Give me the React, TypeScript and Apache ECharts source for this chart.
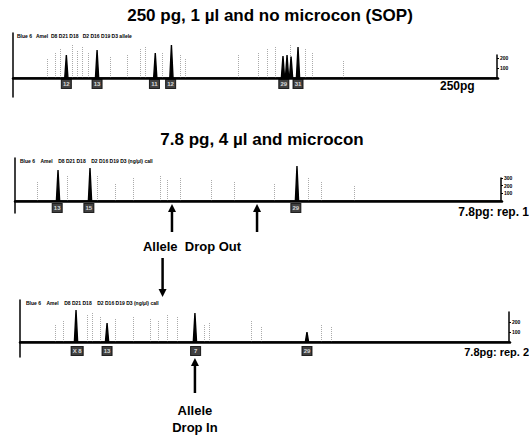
import React, { useEffect, useRef } from "react";
import * as echarts from "echarts";

// ---------- data ----------
const X_MIN = 60;
const X_MAX = 360;

// Panel 1: 250 pg, SOP
const P1_PEAK_X = [93, 112, 148, 158, 227, 229.5, 232, 236.3];
const P1_PEAK_Y = [230, 280, 250, 330, 220, 230, 215, 310];
const P1_ALLELE_X = [93, 112, 147.5, 157.5, 227.5, 236.3];
const P1_ALLELES = ["12", "13", "11", "12", "29", "31"];
const P1_TRACE_X = [81, 86, 89, 96.5, 99.6, 102.7, 106.4, 120, 130.5, 138.6, 141.6, 152.2, 163.3, 166.3, 199.2, 211.5, 217, 222, 231.3, 240.6, 245, 264];
const P1_TRACE_Y = [200, 260, 300, 330, 280, 310, 250, 220, 240, 300, 320, 260, 230, 200, 240, 260, 300, 320, 340, 290, 250, 180];

// Panel 2: 7.8 pg rep. 1
const P2_PEAK_X = [86.5, 106.2, 233.7];
const P2_PEAK_Y = [310, 330, 350];
const P2_ALLELE_X = [86, 105.5, 233];
const P2_ALLELES = ["13", "15", "29"];
const P2_TRACE_X = [73.6, 92.2, 110.7, 121.9, 133, 149.7, 154, 162, 180.6, 194.8, 219.6, 240.6, 248.7, 269];
const P2_TRACE_Y = [200, 260, 250, 180, 230, 260, 220, 240, 210, 200, 180, 230, 200, 150];
const P2_DROPOUT_X = [156.7, 209.1];

// Panel 3: 7.8 pg rep. 2
const P3_PEAK_X = [94.3, 113.3, 167.1, 235.7];
const P3_PEAK_Y = [320, 190, 290, 100];
const P3_ALLELE_X = [95, 113.3, 167.5, 235.7];
const P3_ALLELES = ["X 8", "13", "7", "29"];
const P3_TRACE_X = [81.5, 86.4, 101.2, 104.3, 109.2, 118.4, 129.5, 139.9, 144.8, 150.4, 156.5, 172.5, 175.6, 201.4, 207.5, 244.4, 250.6];
const P3_TRACE_Y = [180, 220, 280, 300, 250, 230, 260, 240, 220, 270, 250, 180, 200, 220, 160, 180, 150];
const P3_DROPIN_X = 167.1;
const P3_LINK_X = 147.3;

const TITLES = ["250 pg, 1 \u00b5l and no microcon (SOP)", "7.8 pg, 4 \u00b5l and microcon"];
const SAMPLE_LABELS = ["250pg", "7.8pg: rep. 1", "7.8pg: rep. 2"];
const HEADERS = [
  "Blue 6   Amel  D8 D21 D18   D2 D16 D19 D3 allele",
  "Blue 6    Amel    D8 D21 D18    D2 D16 D19 D3 (ng/\u00b5l) call",
  "Blue 6    Amel    D8 D21 D18    D2 D16 D19 D3 (ng/\u00b5l) call",
];
const MINI_TICKS_MAX = [230, 300, 300];

function spikes(xs: number[], ys: number[], w: number) {
  const idx = xs.map((_, i) => i).sort((a, b) => xs[a] - xs[b]);
  const pts: number[][] = [[X_MIN, 0]];
  idx.forEach((i) => {
    pts.push([xs[i] - w, 0], [xs[i], ys[i]], [xs[i] + w, 0]);
  });
  pts.push([X_MAX, 0]);
  return pts;
}

const FONT = "Liberation Sans";

export default function App() {
  const ref = useRef<HTMLDivElement>(null);
  useEffect(() => {
    if (!ref.current) return;
    const chart = echarts.init(ref.current, null, { renderer: "svg" });

    const grids = [
      { left: 13, top: 33, width: 485, height: 64 },
      { left: 15, top: 158, width: 487, height: 55 },
      { left: 20, top: 300, width: 490, height: 57 },
      { left: 497, top: 55, width: 1, height: 23 },
      { left: 501, top: 178, width: 1, height: 23 },
      { left: 509, top: 312, width: 1, height: 30 },
    ];
    const yRanges = [
      [-190, 450],
      [-120, 430],
      [-150, 420],
    ];
    const boxY = [-60, -70, -90];
    const peaks = [
      [P1_PEAK_X, P1_PEAK_Y],
      [P2_PEAK_X, P2_PEAK_Y],
      [P3_PEAK_X, P3_PEAK_Y],
    ];
    const alleles = [
      [P1_ALLELE_X, P1_ALLELES],
      [P2_ALLELE_X, P2_ALLELES],
      [P3_ALLELE_X, P3_ALLELES],
    ] as [number[], string[]][];
    const traces = [
      [P1_TRACE_X, P1_TRACE_Y],
      [P2_TRACE_X, P2_TRACE_Y],
      [P3_TRACE_X, P3_TRACE_Y],
    ];

    const xAxis: any[] = [];
    const yAxis: any[] = [];
    for (let i = 0; i < 3; i++) {
      xAxis.push({
        gridIndex: i,
        type: "value",
        min: X_MIN,
        max: X_MAX,
        axisLine: { show: true, onZero: true, lineStyle: { color: "#000", width: 2.5 } },
        axisTick: { show: false },
        axisLabel: { show: false },
        splitLine: { show: false },
      });
      yAxis.push({
        gridIndex: i,
        type: "value",
        min: yRanges[i][0],
        max: yRanges[i][1],
        axisLine: { show: true, lineStyle: { color: "#000", width: 1.5 } },
        axisTick: { show: false },
        axisLabel: { show: false },
        splitLine: { show: false },
      });
    }
    for (let i = 0; i < 3; i++) {
      xAxis.push({ gridIndex: 3 + i, type: "value", show: false, min: 0, max: 1 });
      yAxis.push({
        gridIndex: 3 + i,
        type: "value",
        position: "right",
        min: 0,
        max: MINI_TICKS_MAX[i],
        interval: 100,
        axisLine: { show: true, lineStyle: { color: "#000", width: 1.5 } },
        axisTick: { show: true, length: 2, lineStyle: { color: "#000", width: 1 } },
        axisLabel: {
          show: true,
          fontSize: 5,
          fontWeight: "bold",
          color: "#000",
          margin: 2,
          fontFamily: FONT,
          showMinLabel: false,
          showMaxLabel: i === 1,
        },
        splitLine: { show: false },
      });
    }

    const series: any[] = [];
    for (let i = 0; i < 3; i++) {
      series.push({
        type: "line",
        xAxisIndex: i,
        yAxisIndex: i,
        data: spikes(peaks[i][0], peaks[i][1], 1.0),
        symbol: "none",
        lineStyle: { color: "#000", width: 1.4 },
        areaStyle: { color: "#000", opacity: 1 },
        z: 3,
        markLine: {
          silent: true,
          symbol: "none",
          label: { show: false },
          lineStyle: { color: "#aaa", type: "dotted", width: 1 },
          data: traces[i][0].map((x, k) => [
            { coord: [x, 0] },
            { coord: [x, traces[i][1][k]] },
          ]),
          z: 1,
        },
      });
      series.push({
        type: "scatter",
        xAxisIndex: i,
        yAxisIndex: i,
        symbol: "rect",
        symbolSize: (v: any, p: any) => (String(p.name).length > 2 ? [12, 9] : [10, 9]),
        itemStyle: { color: "#111", borderColor: "#000", borderWidth: 1 },
        label: {
          show: true,
          position: "inside",
          formatter: "{b}",
          color: "#fff",
          fontSize: 6,
          fontWeight: "bold",
          fontFamily: FONT,
        },
        data: alleles[i][0].map((x, k) => ({ name: alleles[i][1][k], value: [x, boxY[i]] })),
        z: 4,
      });
    }

    chart.setOption({
      animation: false,
      backgroundColor: "#fff",
      grid: grids,
      xAxis,
      yAxis,
      series,
    });

    const px = (g: number, x: number, y: number) =>
      chart.convertToPixel({ gridIndex: g } as any, [x, y]) as number[];

    const upArrow = (x: number, yTip: number, yTail: number) => [
      { type: "line", shape: { x1: x, y1: yTip + 6, x2: x, y2: yTail }, style: { stroke: "#000", lineWidth: 2.5 } },
      { type: "polygon", shape: { points: [[x, yTip], [x - 4, yTip + 8], [x + 4, yTip + 8]] }, style: { fill: "#000" } },
    ];
    const downArrow = (x: number, yTip: number, yTail: number) => [
      { type: "line", shape: { x1: x, y1: yTail, x2: x, y2: yTip - 6 }, style: { stroke: "#000", lineWidth: 2.5 } },
      { type: "polygon", shape: { points: [[x, yTip], [x - 4, yTip - 8], [x + 4, yTip - 8]] }, style: { fill: "#000" } },
    ];

    const bold = (text: string, x: number, y: number, size: number, align: string = "left") => ({
      type: "text",
      x,
      y,
      style: {
        text,
        fontSize: size,
        fontWeight: "bold",
        fontFamily: FONT,
        fill: "#000",
        align,
        verticalAlign: "middle",
      },
    });

    const graphic: any[] = [];
    graphic.push(bold(TITLES[0], 270, 15, 17, "center"));
    graphic.push(bold(TITLES[1], 262, 139, 17, "center"));
    graphic.push(bold(SAMPLE_LABELS[0], 440, 86, 12));
    graphic.push(bold(SAMPLE_LABELS[1], 529, 212, 12, "right"));
    graphic.push(bold(SAMPLE_LABELS[2], 529, 352, 11, "right"));
    graphic.push({ type: "text", x: 17, y: 36, style: { text: HEADERS[0], fontSize: 5, fontWeight: "bold", fontFamily: FONT, fill: "#000", verticalAlign: "middle" } });
    graphic.push({ type: "text", x: 20, y: 161, style: { text: HEADERS[1], fontSize: 5, fontWeight: "bold", fontFamily: FONT, fill: "#000", verticalAlign: "middle" } });
    graphic.push({ type: "text", x: 26, y: 303, style: { text: HEADERS[2], fontSize: 5, fontWeight: "bold", fontFamily: FONT, fill: "#000", verticalAlign: "middle" } });

    P2_DROPOUT_X.forEach((x) => {
      const p = px(1, x, 0);
      graphic.push(...upArrow(p[0], 204, 232));
    });
    graphic.push(bold("Allele  Drop Out", 192, 246, 13, "center"));

    const link = px(2, P3_LINK_X, 0);
    graphic.push(...downArrow(link[0], 297, 258));

    const di = px(2, P3_DROPIN_X, 0);
    graphic.push(...upArrow(di[0], 358, 393));
    graphic.push(bold("Allele", di[0], 410, 13, "center"));
    graphic.push(bold("Drop In", di[0], 427, 13, "center"));

    chart.setOption({ graphic });

    return () => chart.dispose();
  }, []);

  return (
    <div
      ref={ref}
      style={{ position: "absolute", left: 0, top: 0, width: 529, height: 438, background: "#fff" }}
    />
  );
}
